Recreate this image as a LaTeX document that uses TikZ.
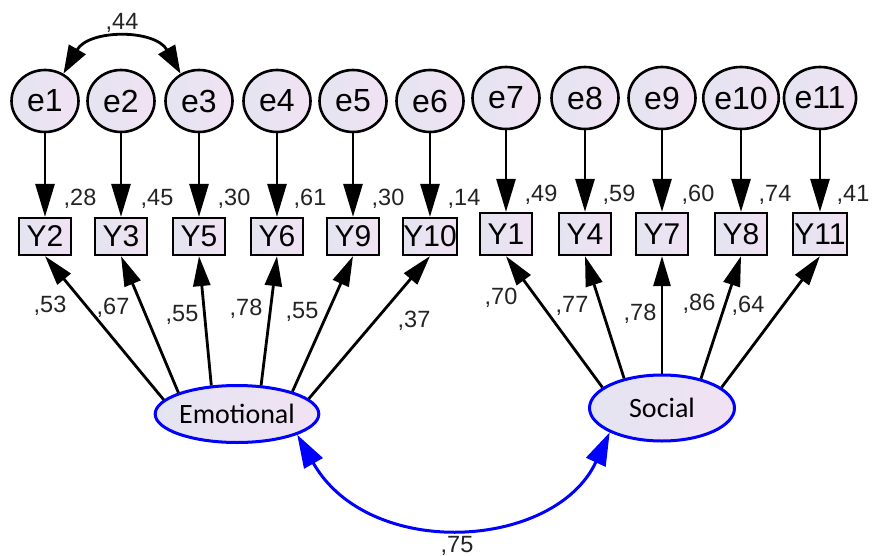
\documentclass[tikz,border=0pt]{standalone}
\usepackage{fontspec}
\setmainfont{Liberation Sans}
\newfontfamily\calfont{Carlito}
\usetikzlibrary{shapes.geometric,arrows.meta}
\definecolor{fillL}{RGB}{228,228,241}
\definecolor{fillR}{RGB}{241,226,243}
\definecolor{lblcol}{RGB}{35,35,35}
\begin{document}
\begin{tikzpicture}[x=1pt,y=-1pt,
 shade/.style={left color=fillL, right color=fillR},
 err/.style={ellipse, draw, line width=2.6pt, shade, minimum width=67pt, minimum height=62pt, inner sep=0pt, font=\fontsize{32}{32}\selectfont},
 obs/.style={rectangle, draw, line width=2.2pt, shade, minimum width=52pt, minimum height=37pt, inner sep=0pt, font=\fontsize{30}{30}\selectfont},
 obsR/.style={obs, minimum height=42pt},
 lat/.style={ellipse, draw=blue, line width=3pt, shade, inner sep=0pt, font=\calfont\fontsize{28}{28}\selectfont},
 num/.style={anchor=base, font=\fontsize{23.5}{23.5}\selectfont, text=lblcol, inner sep=0pt},
 arr/.style={line width=2.8pt, -{Triangle[length=33pt,width=19pt]}},
 ld/.style={line width=2.8pt, -{Triangle[length=30pt,width=17pt]}},
 cov/.style={line width=2.8pt, {Triangle[length=28pt,width=19pt]}-{Triangle[length=28pt,width=19pt]}},
 bcov/.style={draw=blue, line width=3pt, {Triangle[length=33pt,width=21pt]}-{Triangle[length=33pt,width=21pt]}}
]
\useasboundingbox (0,0) rectangle (872,556);

% error terms
\node[err] (e1) at (45,101) {e1};
\node[err] (e2) at (121,101) {e2};
\node[err] (e3) at (199,101) {e3};
\node[err] (e4) at (277,101) {e4};
\node[err] (e5) at (353,101) {e5};
\node[err] (e6) at (430,101) {e6};
\node[err] (e7) at (506,98) {e7};
\node[err] (e8) at (585,98) {e8};
\node[err] (e9) at (662,98) {e9};
\node[err] (e10) at (741,98) {e10};
\node[err] (e11) at (820,98) {e11};

% observed
\node[obs] (Y2) at (45,236.5) {Y2};
\node[obs] (Y3) at (121,236.5) {Y3};
\node[obs] (Y5) at (199,236.5) {Y5};
\node[obs] (Y6) at (277,236.5) {Y6};
\node[obs] (Y9) at (353,236.5) {Y9};
\node[obs, minimum width=54pt] (Y10) at (430,236.5) {Y10};
\node[obsR] (Y1) at (506,234) {Y1};
\node[obsR] (Y4) at (585,234) {Y4};
\node[obsR] (Y7) at (662,234) {Y7};
\node[obsR] (Y8) at (741,234) {Y8};
\node[obsR, minimum width=54pt] (Y11) at (820,234) {Y11};

% latent
\node[lat, minimum width=161pt, minimum height=57pt] (Em) at (237,414) {Emotional};
\node[lat, minimum width=145pt, minimum height=66pt] (So) at (662,408) {Social};

% error arrows
\draw[arr] (e1) -- (Y2);
\draw[arr] (e2) -- (Y3);
\draw[arr] (e3) -- (Y5);
\draw[arr] (e4) -- (Y6);
\draw[arr] (e5) -- (Y9);
\draw[arr] (e6) -- (Y10);
\draw[arr] (e7) -- (Y1);
\draw[arr] (e8) -- (Y4);
\draw[arr] (e9) -- (Y7);
\draw[arr] (e10) -- (Y8);
\draw[arr] (e11) -- (Y11);

% loadings
\draw[ld] (Em.169) -- (Y2.south);
\draw[ld] (Em.160) -- (Y3.south);
\draw[ld] (Em.132) -- (Y5.south);
\draw[ld] (Em.50) -- (Y6.south);
\draw[ld] (Em.22) -- (Y9.south);
\draw[ld] (Em.12) -- (Y10.south);
\draw[ld] (So.161) -- (Y1.south);
\draw[ld] (So.142) -- (Y4.south);
\draw[ld] (So.90) -- (Y7.south);
\draw[ld] (So.37) -- (Y8.south);
\draw[ld] (So.19) -- (Y11.south);

% covariances
\draw[cov] (e1.56) .. controls (89,29) and (155,29) .. (e3.124);
\draw[bcov] (Em.-19) .. controls (369,561) and (555,550) .. (So.205);

% labels
\node[num] (c13) at (122,30) {,44};
\node[num] (cES) at (457,552) {,75};

\node[num] (r2) at (80,205) {,28};
\node[num] (r3) at (157,205) {,45};
\node[num] (r5) at (234,205) {,30};
\node[num] (r6) at (310,205) {,61};
\node[num] (r9) at (388,205) {,30};
\node[num] (r10) at (464,205) {,14};
\node[num] (r1) at (541,201) {,49};
\node[num] (r4) at (619,201) {,59};
\node[num] (r7) at (698,201) {,60};
\node[num] (r8) at (775,201) {,74};
\node[num] (r11) at (853,201) {,41};

\node[num] (l2) at (50,312.5) {,53};
\node[num] (l3) at (113,314.5) {,67};
\node[num] (l5) at (182,321.5) {,55};
\node[num] (l6) at (246,315.5) {,78};
\node[num] (l9) at (302,318.5) {,55};
\node[num] (l10) at (414,327.5) {,37};
\node[num] (l1) at (501,304.5) {,70};
\node[num] (l4) at (572,312.5) {,77};
\node[num] (l7) at (640,320.5) {,78};
\node[num] (l8) at (699,310.5) {,86};
\node[num] (l11) at (748,312.5) {,64};
\end{tikzpicture}
\end{document}
